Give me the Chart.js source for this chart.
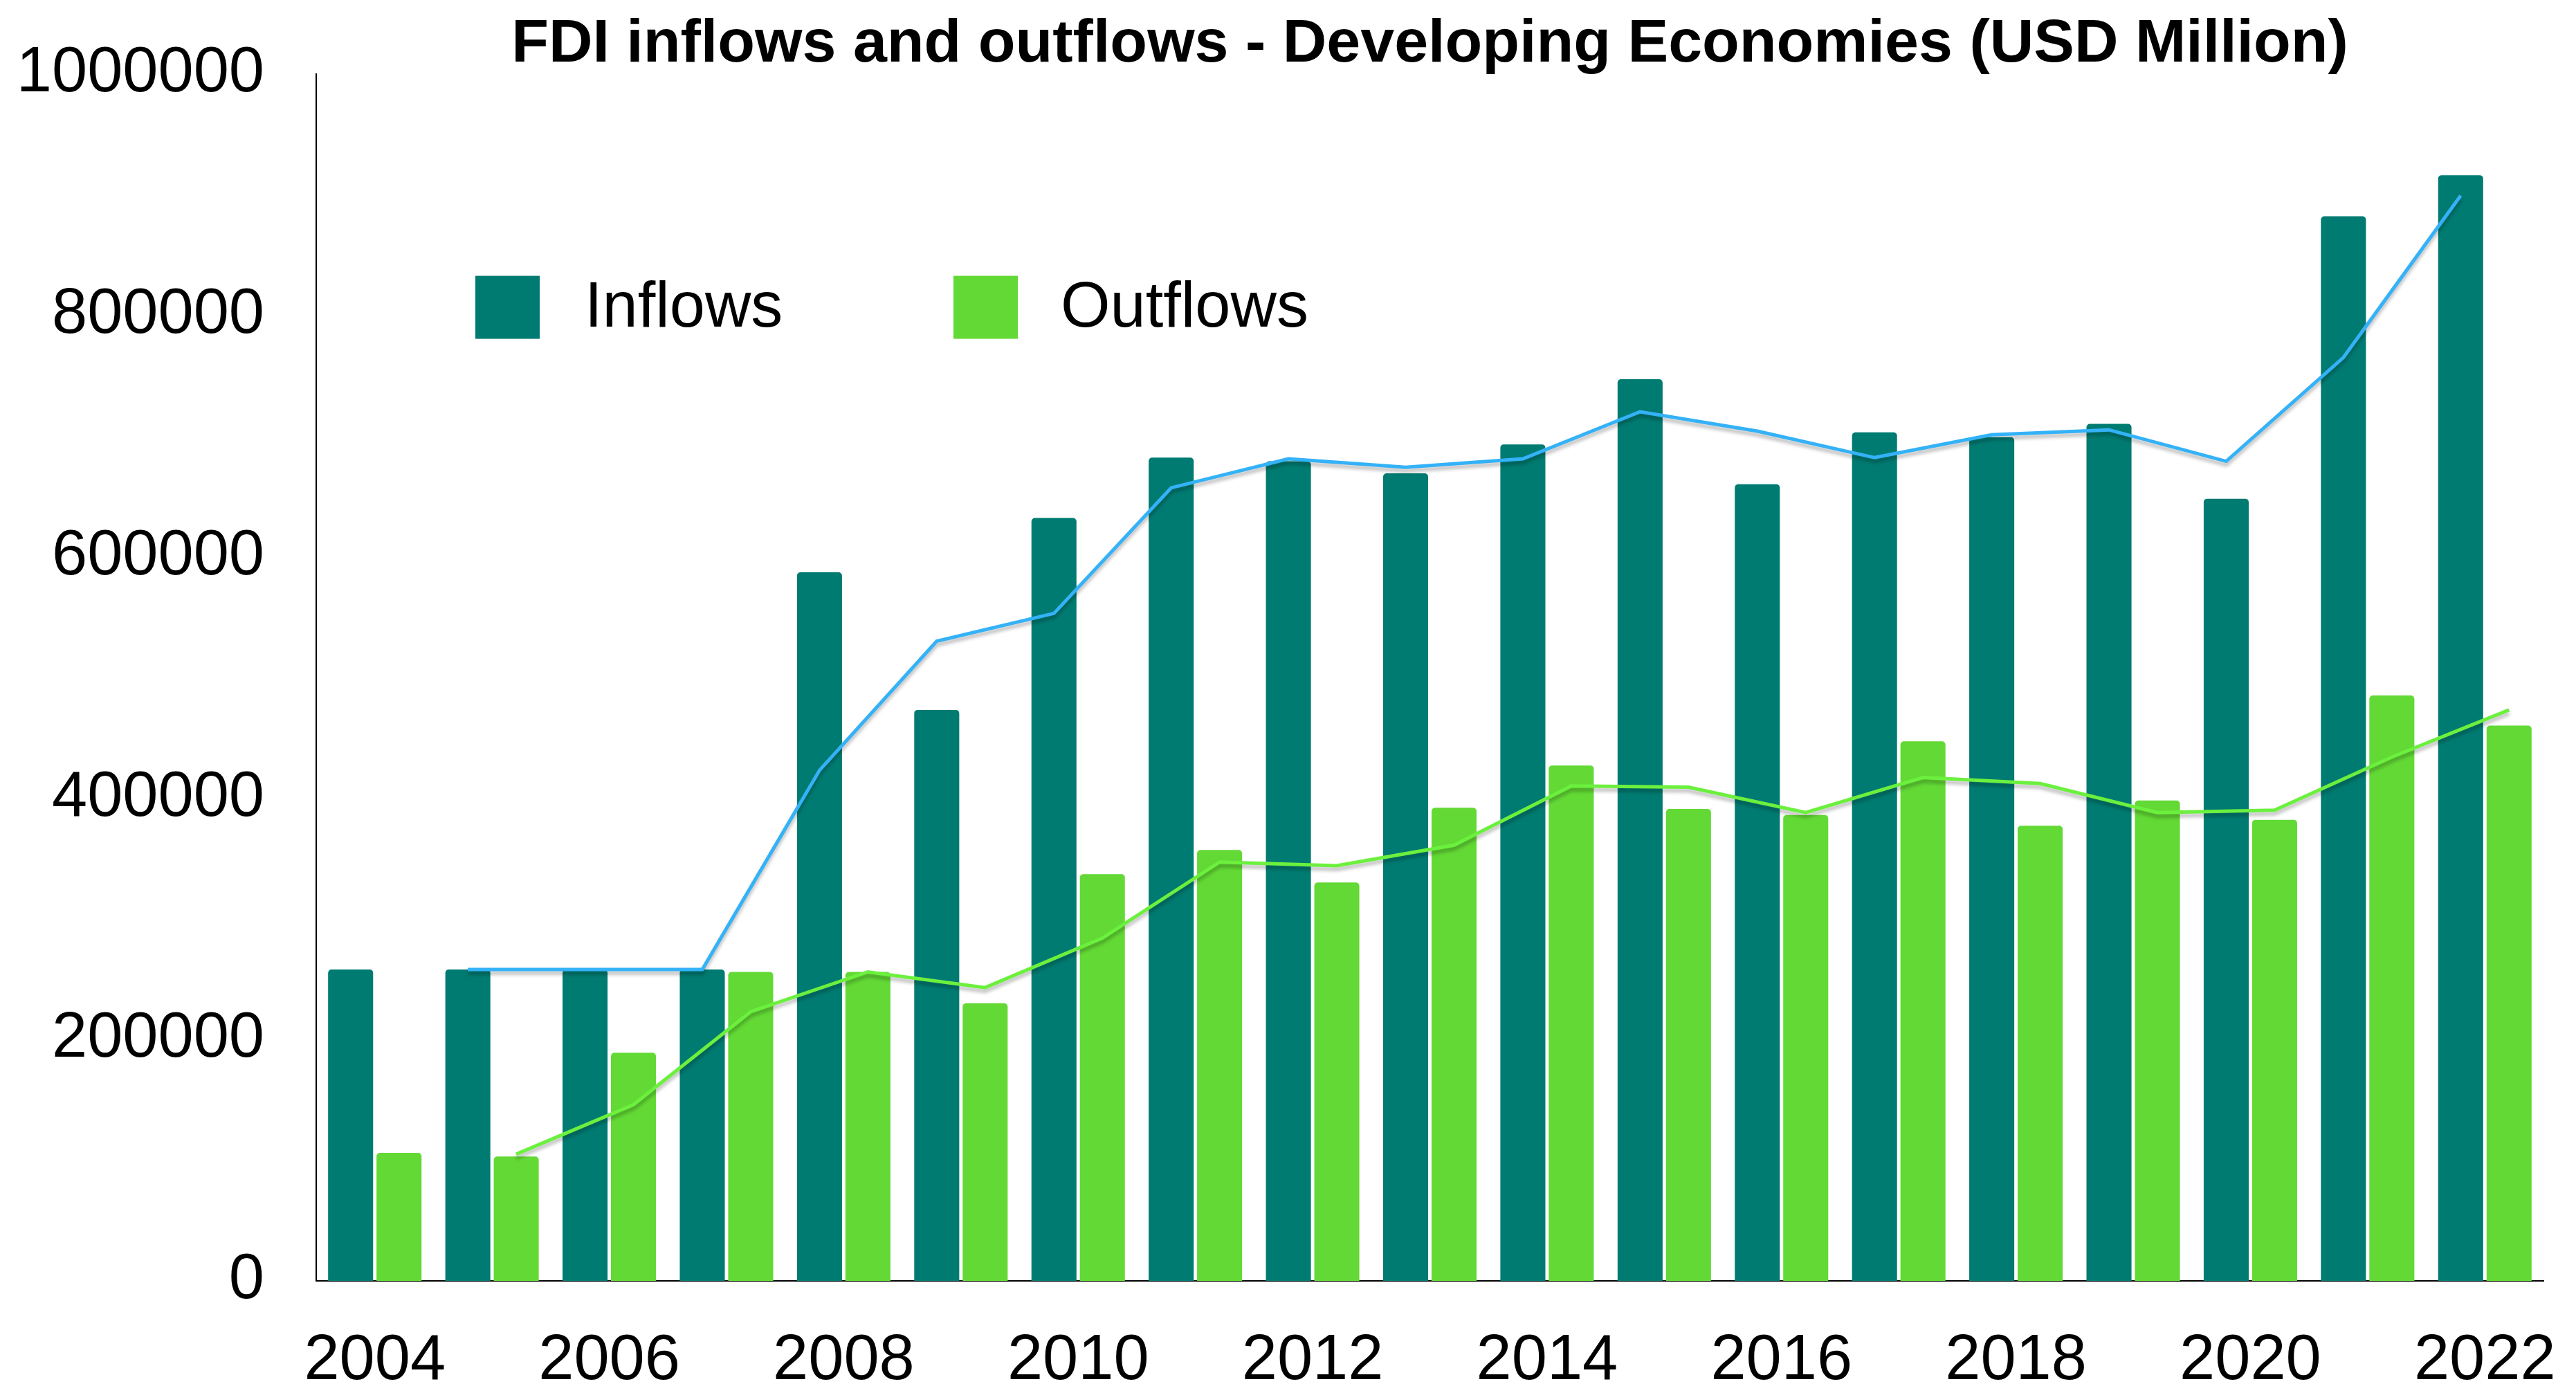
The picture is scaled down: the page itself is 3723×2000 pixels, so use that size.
<!DOCTYPE html>
<html>
<head>
<meta charset="utf-8">
<script src="https://cdn.jsdelivr.net/npm/chart.js@4/dist/chart.umd.min.js"></script>
<style>
  html, body { margin: 0; padding: 0; background: #ffffff; }
  #wrap { width: 3723px; height: 2000px; }
</style>
</head>
<body>
<div id="wrap"><canvas id="c" width="3723" height="2000"></canvas></div>
<script>
// ---- data (USD million) ----
const years = ['2004','2005','2006','2007','2008','2009','2010','2011','2012','2013',
               '2014','2015','2016','2017','2018','2019','2020','2021','2022'];
const inflows = [258000, 258000, 258000, 258000, 587000, 473000, 632000, 682000, 679000, 669000,
                 693000, 747000, 660000, 703000, 699000, 710000, 648000, 882000, 916000];
const outflows = [106000, 103000, 189000, 256000, 256000, 230000, 337000, 357000, 330000, 392000,
                  427000, 391000, 386000, 447000, 377000, 398000, 382000, 485000, 460000];
// trend lines (2-period moving average as drawn in the reference)
const inflowTrend = [null, 258000, 258000, 258000, 423000, 530000, 553000, 657000, 681000, 674000,
                     681000, 720000, 704000, 682000, 701000, 705000, 679000, 765000, 899000];
const outflowTrend = [null, 105000, 146000, 223000, 256000, 243000, 284000, 347000, 344000, 361000,
                      410000, 409000, 388000, 417000, 412000, 388000, 390000, 434000, 473000];
const yTicks = [0, 200000, 400000, 600000, 800000, 1000000];
const titleText = 'FDI inflows and outflows - Developing Economies (USD Million)';
const legendLabels = ['Inflows', 'Outflows'];

const TEAL = '#007b71';
const GREEN = '#63d935';
const BLUE = '#34b2f8';
const LGREEN = '#6cf03e';
const FONT = "'Liberation Sans', Arial, sans-serif";

// move trend points onto the x of the matching bar of the same year
const alignTrend = {
  id: 'alignTrend',
  afterDatasetsUpdate(chart) {
    chart.data.datasets.forEach((ds, di) => {
      if (ds.type !== 'line') return;
      const src = chart.getDatasetMeta(ds.barRef);
      const meta = chart.getDatasetMeta(di);
      meta.data.forEach((pt, i) => {
        if (src.data[i]) pt.x = src.data[i].x;
      });
    });
  },
  beforeDatasetDraw(chart, args) {
    const ds = chart.data.datasets[args.index];
    if (ds.type === 'line') {
      const ctx = chart.ctx;
      ctx.save();
      ctx.shadowColor = 'rgba(0,0,0,0.28)';
      ctx.shadowBlur = 5;
      ctx.shadowOffsetX = 0;
      ctx.shadowOffsetY = 5;
    }
  },
  afterDatasetDraw(chart, args) {
    const ds = chart.data.datasets[args.index];
    if (ds.type === 'line') chart.ctx.restore();
  }
};

// legend drawn inside the plot area (top-left)
const innerLegend = {
  id: 'innerLegend',
  afterDraw(chart) {
    const ctx = chart.ctx;
    const a = chart.chartArea;
    const items = [
      { text: legendLabels[0], color: chart.data.datasets[0].backgroundColor, bx: 230, tx: 388 },
      { text: legendLabels[1], color: chart.data.datasets[1].backgroundColor, bx: 921, tx: 1076 }
    ];
    ctx.save();
    ctx.font = '92px ' + FONT;
    ctx.textBaseline = 'middle';
    ctx.textAlign = 'left';
    items.forEach(it => {
      ctx.fillStyle = it.color;
      ctx.fillRect(a.left + it.bx, a.top + 292, 93, 91);
      ctx.fillStyle = '#000000';
      ctx.fillText(it.text, a.left + it.tx, a.top + 340);
    });
    ctx.restore();
  }
};

new Chart(document.getElementById('c'), {
  data: {
    labels: years,
    datasets: [
      { type: 'bar', label: legendLabels[0], data: inflows, backgroundColor: TEAL,
        borderRadius: { topLeft: 5, topRight: 5, bottomLeft: 0, bottomRight: 0 },
        borderSkipped: false, categoryPercentage: 0.826, barPercentage: 0.93, order: 2 },
      { type: 'bar', label: legendLabels[1], data: outflows, backgroundColor: GREEN,
        borderRadius: { topLeft: 5, topRight: 5, bottomLeft: 0, bottomRight: 0 },
        borderSkipped: false, categoryPercentage: 0.826, barPercentage: 0.93, order: 2 },
      { type: 'line', label: 'Inflows trend', data: inflowTrend, barRef: 0, borderColor: BLUE,
        borderWidth: 5, pointRadius: 0, tension: 0, fill: false, spanGaps: false, order: 0 },
      { type: 'line', label: 'Outflows trend', data: outflowTrend, barRef: 1, borderColor: LGREEN,
        borderWidth: 5, pointRadius: 0, tension: 0, fill: false, spanGaps: false, order: 0 }
    ]
  },
  options: {
    responsive: false,
    animation: false,
    devicePixelRatio: 1,
    layout: { autoPadding: false, padding: { left: 0, right: 47, top: 0, bottom: 0 } },
    plugins: {
      legend: { display: false },
      tooltip: { enabled: false },
      title: {
        display: true,
        text: titleText,
        fullSize: false,
        color: '#000000',
        font: { family: FONT, size: 88, weight: 'bold', lineHeight: 0.95 },
        padding: { top: 23, bottom: 0 }
      }
    },
    scales: {
      x: {
        type: 'category',
        offset: true,
        grid: { display: false, drawTicks: false, tickLength: 0 },
        border: { display: true, color: '#000000', width: 2 },
        ticks: {
          autoSkip: false, maxRotation: 0, minRotation: 0, padding: 61,
          color: '#000000', font: { family: FONT, size: 92 },
          callback: (v, i) => (i % 2 === 0 ? years[i] : null)
        },
        afterFit: (s) => { s.height = 149; s.paddingLeft = 0; s.paddingRight = 0; }
      },
      y: {
        min: 0, max: 1000000,
        grid: { display: false, drawTicks: false, tickLength: 0 },
        border: { display: true, color: '#000000', width: 2 },
        afterBuildTicks: (s) => { s.ticks = yTicks.map(v => ({ value: v })); },
        ticks: {
          padding: 75, color: '#000000', font: { family: FONT, size: 92 },
          callback: (v) => String(v)
        },
        afterFit: (s) => { s.width = 457; s.paddingTop = 0; s.paddingBottom = 0; }
      }
    }
  },
  plugins: [alignTrend, innerLegend]
});
</script>
</body>
</html>
